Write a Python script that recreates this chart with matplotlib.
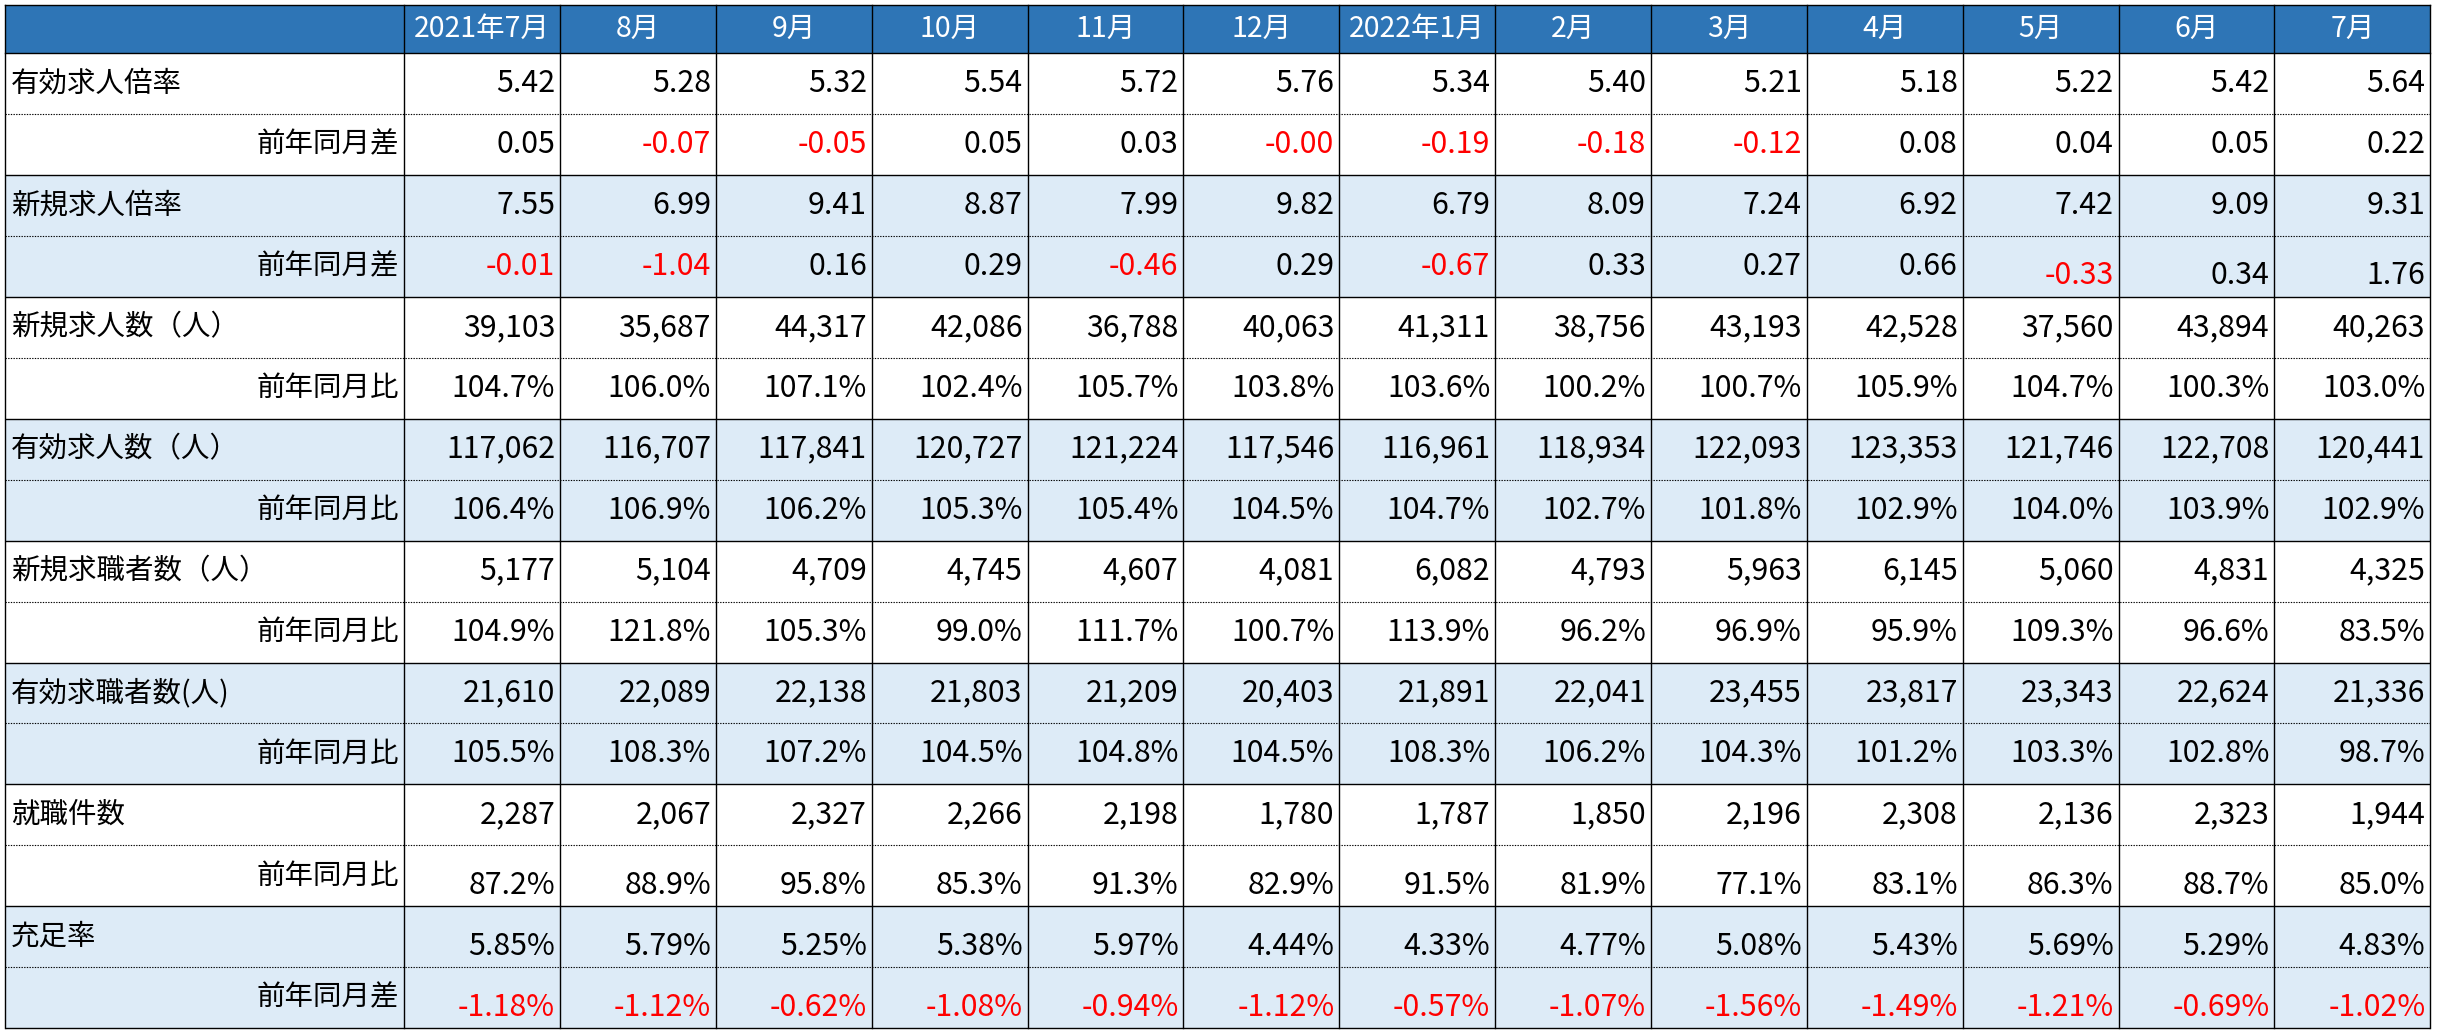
import matplotlib
matplotlib.use("Agg")
import matplotlib.pyplot as plt
from matplotlib.patches import Rectangle

plt.rcParams['font.family'] = ['Noto Sans CJK JP', 'DejaVu Sans']

# ---------------- data ----------------
months = ["2021年7月", "8月", "9月", "10月", "11月", "12月", "2022年1月",
          "2月", "3月", "4月", "5月", "6月", "7月"]

row_labels = ["有効求人倍率", "前年同月差", "新規求人倍率", "前年同月差",
              "新規求人数（人）", "前年同月比", "有効求人数（人）", "前年同月比",
              "新規求職者数（人）", "前年同月比", "有効求職者数(人)", "前年同月比",
              "就職件数", "前年同月比", "充足率", "前年同月差"]

yuko_bairitsu = [5.42, 5.28, 5.32, 5.54, 5.72, 5.76, 5.34, 5.40, 5.21, 5.18, 5.22, 5.42, 5.64]
yuko_bairitsu_diff = [0.05, -0.07, -0.05, 0.05, 0.03, -0.001, -0.19, -0.18, -0.12, 0.08, 0.04, 0.05, 0.22]
shinki_bairitsu = [7.55, 6.99, 9.41, 8.87, 7.99, 9.82, 6.79, 8.09, 7.24, 6.92, 7.42, 9.09, 9.31]
shinki_bairitsu_diff = [-0.01, -1.04, 0.16, 0.29, -0.46, 0.29, -0.67, 0.33, 0.27, 0.66, -0.33, 0.34, 1.76]
shinki_kyujin = [39103, 35687, 44317, 42086, 36788, 40063, 41311, 38756, 43193, 42528, 37560, 43894, 40263]
shinki_kyujin_yoy = [104.7, 106.0, 107.1, 102.4, 105.7, 103.8, 103.6, 100.2, 100.7, 105.9, 104.7, 100.3, 103.0]
yuko_kyujin = [117062, 116707, 117841, 120727, 121224, 117546, 116961, 118934, 122093, 123353, 121746, 122708, 120441]
yuko_kyujin_yoy = [106.4, 106.9, 106.2, 105.3, 105.4, 104.5, 104.7, 102.7, 101.8, 102.9, 104.0, 103.9, 102.9]
shinki_kyushoku = [5177, 5104, 4709, 4745, 4607, 4081, 6082, 4793, 5963, 6145, 5060, 4831, 4325]
shinki_kyushoku_yoy = [104.9, 121.8, 105.3, 99.0, 111.7, 100.7, 113.9, 96.2, 96.9, 95.9, 109.3, 96.6, 83.5]
yuko_kyushoku = [21610, 22089, 22138, 21803, 21209, 20403, 21891, 22041, 23455, 23817, 23343, 22624, 21336]
yuko_kyushoku_yoy = [105.5, 108.3, 107.2, 104.5, 104.8, 104.5, 108.3, 106.2, 104.3, 101.2, 103.3, 102.8, 98.7]
shushoku = [2287, 2067, 2327, 2266, 2198, 1780, 1787, 1850, 2196, 2308, 2136, 2323, 1944]
shushoku_yoy = [87.2, 88.9, 95.8, 85.3, 91.3, 82.9, 91.5, 81.9, 77.1, 83.1, 86.3, 88.7, 85.0]
jusoku = [5.85, 5.79, 5.25, 5.38, 5.97, 4.44, 4.33, 4.77, 5.08, 5.43, 5.69, 5.29, 4.83]
jusoku_diff = [-1.18, -1.12, -0.62, -1.08, -0.94, -1.12, -0.57, -1.07, -1.56, -1.49, -1.21, -0.69, -1.02]

# ---------------- formatting ----------------
def f2(v):
    return f"{v:.2f}"

def fint(v):
    return f"{v:,.0f}"

def fp1(v):
    return f"{v:.1f}%"

def fp2(v):
    return f"{v:.2f}%"

rows = [
    (yuko_bairitsu, f2), (yuko_bairitsu_diff, f2),
    (shinki_bairitsu, f2), (shinki_bairitsu_diff, f2),
    (shinki_kyujin, fint), (shinki_kyujin_yoy, fp1),
    (yuko_kyujin, fint), (yuko_kyujin_yoy, fp1),
    (shinki_kyushoku, fint), (shinki_kyushoku_yoy, fp1),
    (yuko_kyushoku, fint), (yuko_kyushoku_yoy, fp1),
    (shushoku, fint), (shushoku_yoy, fp1),
    (jusoku, fp2), (jusoku_diff, fp2),
]

# ---------------- layout / style ----------------
W, H = 2438, 1034
x0, y0 = 4.7, 4.5
label_w = 399.5
col_w = 155.85
head_h = 48.5
row_h = 60.95

header_blue = "#2E75B6"
light_blue = "#DDEBF7"
red = "#FF0000"
fs_lab = 20.5
fs_num = 21.8
fs_head = 20.5

# cells whose text sits at bottom of the cell (Excel quirk)
low_cells = {(3, 10), (3, 11), (3, 12)}
for c in range(13):
    low_cells.add((13, c))
    low_cells.add((14, c))
    low_cells.add((15, c))
low_off = 9.5

fig = plt.figure(figsize=(W / 100, H / 100), dpi=100)
ax = fig.add_axes([0, 0, 1, 1])
ax.set_xlim(0, W)
ax.set_ylim(H, 0)
ax.axis("off")

ncol = len(months)
nrow = len(rows)
x_right = x0 + label_w + ncol * col_w
y_bottom = y0 + head_h + nrow * row_h

# header background
ax.add_patch(Rectangle((x0, y0), x_right - x0, head_h, facecolor=header_blue, edgecolor="none"))
# row backgrounds
for r in range(nrow):
    grp = r // 2
    if grp % 2 == 1:
        ax.add_patch(Rectangle((x0, y0 + head_h + r * row_h), x_right - x0, row_h,
                               facecolor=light_blue, edgecolor="none"))

lw = 1.0
# horizontal lines
ax.plot([x0, x_right], [y0, y0], color="black", lw=lw)
ax.plot([x0, x_right], [y0 + head_h, y0 + head_h], color="black", lw=lw)
for r in range(1, nrow + 1):
    yy = y0 + head_h + r * row_h
    if r % 2 == 0:
        ax.plot([x0, x_right], [yy, yy], color="black", lw=lw, solid_capstyle="butt")
    else:
        ax.plot([x0, x_right], [yy, yy], color="black", lw=0.8, linestyle=(0, (1.2, 1.2)))
# vertical lines
ax.plot([x0, x0], [y0, y_bottom], color="black", lw=lw)
for c in range(ncol + 1):
    xx = x0 + label_w + c * col_w
    ax.plot([xx, xx], [y0, y_bottom], color="black", lw=lw)

# header text
for c, m in enumerate(months):
    cx = x0 + label_w + (c + 0.5) * col_w
    ax.text(cx, y0 + head_h / 2, m, color="white", fontsize=fs_head,
            ha="center", va="center")

# row labels
for r, lab in enumerate(row_labels):
    cy = y0 + head_h + (r + 0.5) * row_h
    if r % 2 == 0:
        ax.text(x0 + 6, cy, lab, fontsize=fs_lab, ha="left", va="center", color="black")
    else:
        ax.text(x0 + label_w - 5, cy, lab, fontsize=fs_lab, ha="right", va="center", color="black")

# values
for r, (vals, fmt) in enumerate(rows):
    cy = y0 + head_h + (r + 0.5) * row_h
    for c, v in enumerate(vals):
        s = fmt(v)
        col = red if s.startswith("-") else "black"
        yy = cy + (low_off if (r, c) in low_cells else 0)
        xx = x0 + label_w + (c + 1) * col_w - 5
        ax.text(xx, yy, s, fontsize=fs_num, ha="right", va="center", color=col)

fig.savefig("out.png", dpi=100, facecolor="white")
